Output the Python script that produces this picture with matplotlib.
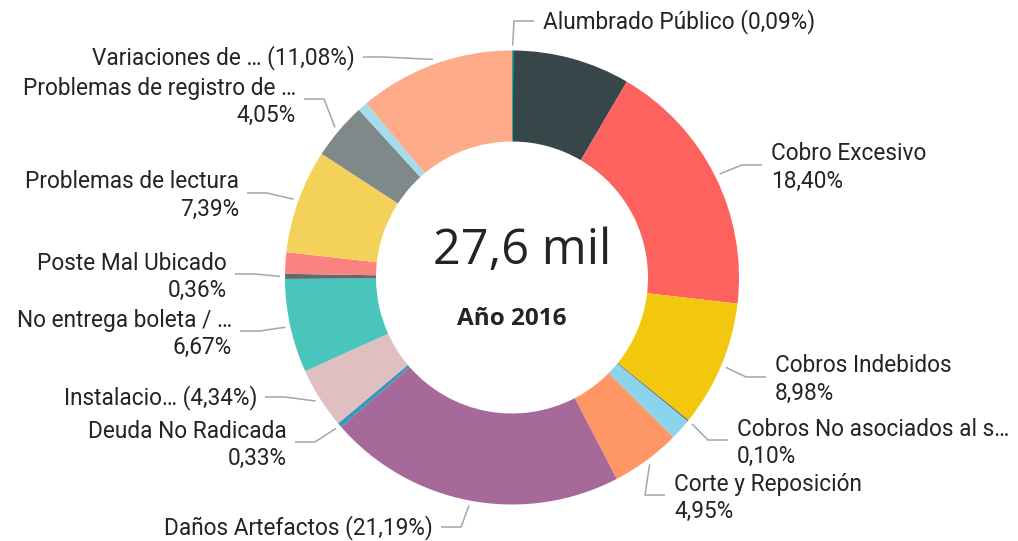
import matplotlib.pyplot as plt
import numpy as np

# categories in the order they are drawn (clockwise from 12 o'clock)
categories = ['Alumbrado Público', '', 'Cobro Excesivo', 'Cobros Indebidos',
              'Cobros No asociados al s…', '', 'Corte y Reposición',
              'Daños Artefactos', 'Deuda No Radicada', 'Instalacio…',
              'No entrega boleta / …', 'Poste Mal Ubicado', '',
              'Problemas de lectura', 'Problemas de registro de …', '',
              'Variaciones de …']
shares = [0.09, 8.35, 18.40, 8.98, 0.10, 1.50, 4.95, 21.19, 0.33, 4.34,
          6.67, 0.36, 1.52, 7.39, 4.05, 0.70, 11.08]
colors = ['#01B8AA', '#374649', '#FD625E', '#F2C80F', '#5F6B6D', '#8AD4EB',
          '#FE9666', '#A66999', '#3599B8', '#DFBFBF', '#4AC5BB', '#5F6B6D',
          '#FB8281', '#F4D25A', '#7F898A', '#A4DDEE', '#FDAB89']
total_label = '27,6 mil'
year_label = 'Año 2016'

# label layout: category index -> (side, text x, leader y, two lines?)
label_layout = {
    0: ('r', 543, 21, False),
    2: ('r', 771, 165, True),
    3: ('r', 775, 377, True),
    4: ('r', 737, 440, True),
    6: ('r', 674, 495, True),
    7: ('l', 433, 527, False),
    8: ('l', 287, 442, True),
    9: ('l', 257, 397, False),
    10: ('l', 232, 331, True),
    11: ('l', 227, 274, True),
    13: ('l', 239, 193, True),
    14: ('l', 296, 99, True),
    16: ('l', 355, 57, False),
}

cx, cy, R, ring = 512, 277.5, 227, 91
text_color = '#252423'
label_font = 'Roboto'
label_size = 16.3

fig = plt.figure(figsize=(10.18, 5.41), dpi=100)
ax = fig.add_axes([0, 0, 1, 1])
# y axis inverted -> counterclock=True draws clockwise on screen
ax.pie(shares, colors=colors, startangle=-90, counterclock=True,
       radius=R, center=(cx, cy),
       wedgeprops=dict(width=ring, linewidth=0, antialiased=True))
ax.set_xlim(0, 1018)
ax.set_ylim(541, 0)
ax.axis('off')

ax.text(cx + 10, 251, total_label, ha='center', va='center', fontsize=35,
        family='Open Sans', color=text_color)
ax.text(cx, 319, year_label, ha='center', va='center', fontsize=17.5,
        family='Open Sans', fontweight='bold', color=text_color)

cum = np.cumsum(shares) - np.array(shares) / 2
for i, (side, tx, ly, two) in label_layout.items():
    ang = np.deg2rad(cum[i] / 100 * 360)
    sx, sy = cx + 232 * np.sin(ang), cy - 232 * np.cos(ang)
    pct = f'{shares[i]:.2f}'.replace('.', ',') + '%'
    if side == 'r':
        ex, endx, ha = tx - 29, tx - 9, 'left'
    else:
        ex, endx, ha = tx + 28, tx + 8, 'right'
    ax.plot([sx, ex, endx], [sy, ly, ly], color='#a6a6a6', lw=1.1,
            solid_capstyle='butt')
    if two:
        ax.text(tx, ly - 11, categories[i], ha=ha, va='center',
                fontsize=label_size, family=label_font, color=text_color)
        ax.text(tx, ly + 16, pct, ha=ha, va='center',
                fontsize=label_size, family=label_font, color=text_color)
    else:
        ax.text(tx, ly + 1, f'{categories[i]} ({pct})', ha=ha, va='center',
                fontsize=label_size, family=label_font, color=text_color)

fig.savefig('out.png', dpi=100)
